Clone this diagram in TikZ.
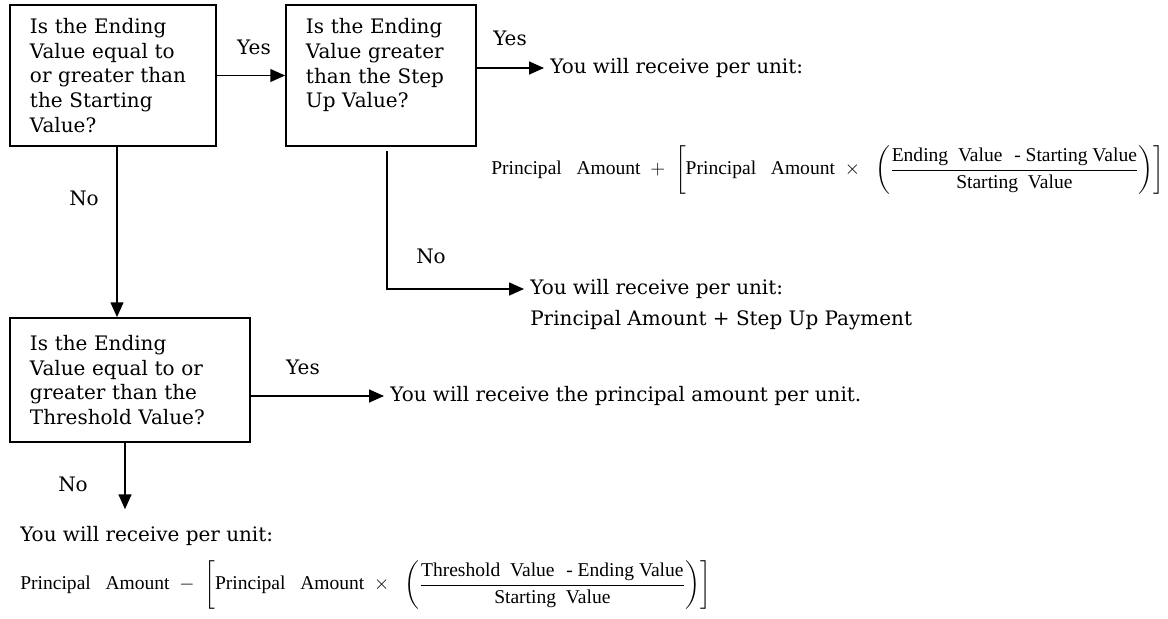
\RequirePackage{fix-cm}
\documentclass[tikz,border=0pt]{standalone}
\usepackage{amsmath}
\usepackage{fontspec}
\setmainfont{DejaVu Serif}
\newfontfamily\formfont{Liberation Serif}
\usetikzlibrary{arrows.meta}

\begin{document}
\begin{tikzpicture}[x=0.025cm, y=-0.025cm,
    every node/.style={font=\fontsize{14.2}{17.7}\selectfont},
    box/.style={draw, line width=1.2pt, align=left, inner xsep=0.5cm, inner ysep=0pt},
    result/.style={inner xsep=0.15cm, inner ysep=0pt, anchor=west},
    formula/.style={inner sep=0pt, anchor=west, font=\formfont\fontsize{13.9}{16}\selectfont},
    flowarrow/.style={line width=1.2pt, -{Triangle[length=0.37cm, width=0.32cm]}}]
    \useasboundingbox (0,0) rectangle (1168,618);
    % Nodes
    \node[box, text width=4.15cm, minimum height=3.525cm] (start) at (113,75.5) {Is the Ending\\Value equal to\\or greater than\\the Starting\\Value?};
    \node[box, text width=3.75cm, minimum height=3.525cm] (stepup) at (381,75.5) {Is the Ending\\Value greater\\than the Step\\Up Value?\\\mbox{}};
    \node[box, text width=5.0cm, minimum height=3.1cm] (threshold) at (130,380) {Is the Ending\\Value equal to or\\greater than the\\Threshold Value?};
    \node[result] (payup) at (544,68) {You will receive per unit:};
    \node[formula] (payupform) at (491,170) {$\text{Principal\hspace{0.75em}Amount}\;+\;\left[\text{Principal\hspace{0.75em}Amount}\;\times\;\;\left(\dfrac{\text{Ending\hspace{0.5em}Value\hspace{0.6em}- Starting Value}}{\text{Starting\hspace{0.5em}Value}}\right)\right]$};
    \node[result] (payflat) at (524,289) {You will receive per unit:};
    \node[result] (payflatsum) at (524,320) {Principal Amount + Step Up Payment};
    \node[result] (payprin) at (384,396) {You will receive the principal amount per unit.};
    \node[result] (paydown) at (14,536) {You will receive per unit:};
    \node[formula] (paydownform) at (20,585) {$\text{Principal\hspace{0.75em}Amount}\;-\;\left[\text{Principal\hspace{0.75em}Amount}\;\times\;\;\left(\dfrac{\text{Threshold\hspace{0.5em}Value\hspace{0.6em}- Ending Value}}{\text{Starting\hspace{0.5em}Value}}\right)\right]$};
    \node (yes1) at (254,47) {Yes};
    \node (yes2) at (510,38) {Yes};
    \node (yes3) at (303,367) {Yes};
    \node (no1) at (84,198) {No};
    \node (no2) at (431,256) {No};
    \node (no3) at (73,484) {No};
    % Edges
    \draw[flowarrow] (start) -- (stepup);
    \draw[flowarrow] (stepup.east |- payup.west) -- (payup.west);
    \draw[flowarrow] ([xshift=0.15cm, yshift=-0.1cm]stepup.south) |- (payflat.west);
    \draw[flowarrow] ([xshift=0.1cm]start.south) -- ([xshift=0.1cm]start.south |- threshold.north);
    \draw[flowarrow] (threshold.east |- payprin.west) -- (payprin.west);
    \draw[flowarrow, shorten >=0.42cm] ([xshift=-0.125cm]threshold.south) -- ([xshift=-0.125cm]threshold.south |- paydown.north);
\end{tikzpicture}
\end{document}
